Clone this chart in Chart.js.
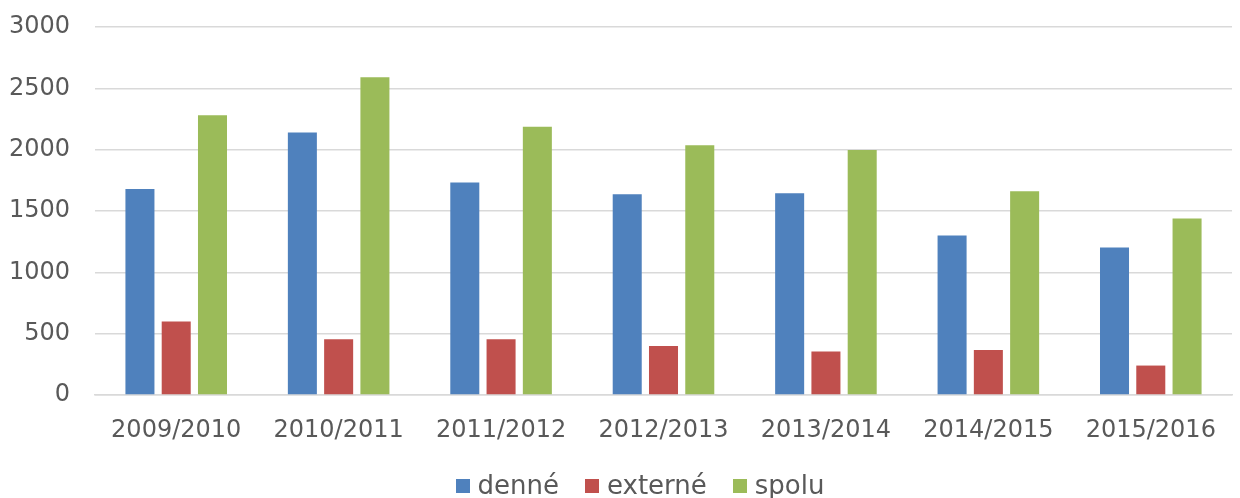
<!DOCTYPE html>
<html>
<head>
<meta charset="utf-8">
<script src="https://cdn.jsdelivr.net/npm/chart.js@4/dist/chart.umd.min.js"></script>
<style>
  html, body { margin: 0; padding: 0; background: #ffffff; }
  #wrap { width: 1240px; height: 498px; position: relative; overflow: hidden; }
  #legend {
    position: absolute; left: 0; right: 0; top: 469px; height: 32px;
    display: flex; justify-content: center; align-items: center;
    font-family: 'DejaVu Sans', sans-serif; font-size: 26px; color: #595959;
    padding-left: 40px; box-sizing: border-box;
  }
  .item { display: flex; align-items: center; margin: 0 13px; }
  .sw { width: 14px; height: 14px; margin-right: 8px; margin-top: 2px; }
</style>
</head>
<body>
<div id="wrap"><canvas id="c"></canvas><div id="legend"></div></div>
<script>
const categories = ["2009/2010", "2010/2011", "2011/2012", "2012/2013", "2013/2014", "2014/2015", "2015/2016"];
const denne   = [1680, 2140, 1733, 1637, 1645, 1300, 1202];
const externe = [600, 455, 454, 400, 354, 367, 240];
const spolu   = [2280, 2590, 2187, 2035, 1997, 1662, 1439];
const seriesNames = ["denné", "externé", "spolu"];
const seriesColors = ["#4F81BD", "#C0504D", "#9BBB59"];

const FONT = "'DejaVu Sans', sans-serif";
const TEXT = "#595959";

const chart = new Chart(document.getElementById("c"), {
  type: "bar",
  data: {
    labels: categories,
    datasets: [denne, externe, spolu].map((d, i) => ({
      label: seriesNames[i],
      data: d,
      backgroundColor: seriesColors[i],
      borderWidth: 0,
      categoryPercentage: 0.67,
      barPercentage: 0.8
    }))
  },
  options: {
    responsive: true,
    maintainAspectRatio: false,
    animation: false,
    layout: { padding: { top: 27, right: 8, left: 0, bottom: 0 } },
    plugins: {
      legend: { display: false },
      tooltip: { enabled: false }
    },
    scales: {
      x: {
        afterFit: (s) => { s.height = 103; },
        grid: { display: false, drawTicks: false },
        border: { display: true, color: "#d9d9d9", width: 1.5 },
        ticks: { color: TEXT, font: { family: FONT, size: 24 }, padding: 21 }
      },
      y: {
        min: 0, max: 3000,
        afterFit: (s) => { s.width = 95; },
        grid: { color: "#d9d9d9", lineWidth: 1.5, drawTicks: true, tickLength: 25, tickColor: "rgba(0,0,0,0)" },
        border: { display: false },
        ticks: {
          stepSize: 500, color: TEXT, font: { family: FONT, size: 24 }, padding: 0,
          callback: (v) => String(v)
        }
      }
    }
  }
});

const legendEl = document.getElementById("legend");
chart.data.datasets.forEach((ds) => {
  const item = document.createElement("div");
  item.className = "item";
  const sw = document.createElement("span");
  sw.className = "sw";
  sw.style.background = ds.backgroundColor;
  const tx = document.createElement("span");
  tx.textContent = ds.label;
  item.appendChild(sw);
  item.appendChild(tx);
  legendEl.appendChild(item);
});
</script>
</body>
</html>
